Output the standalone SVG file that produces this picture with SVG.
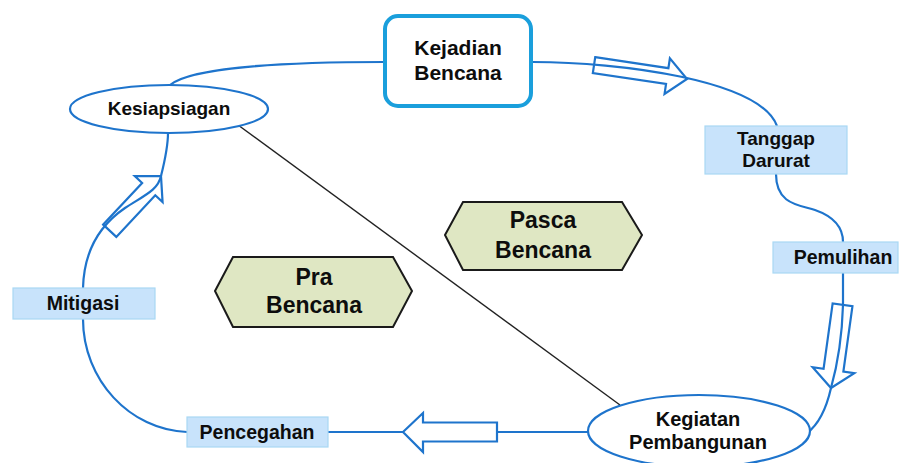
<svg xmlns="http://www.w3.org/2000/svg" width="904" height="463" viewBox="0 0 904 463">
<style>
.ln{fill:none;stroke:#1e74cc;stroke-width:2.2}
.arr{fill:none;stroke:#1e74cc;stroke-width:2.2;stroke-linejoin:miter}
.lbl{fill:#c8e3fb;stroke:#a9d8f3;stroke-width:1.2}
.t{font-family:"Liberation Sans",Arial,sans-serif;font-weight:bold;fill:#0d0d0d;text-anchor:middle}
.hex{fill:#dfe7c3;stroke:#1a1a1a;stroke-width:2}
</style>
<rect width="904" height="463" fill="#fff"/>
<g id="connectors">
<path class="ln" d="M384,62 C280,62 190,68 170,85"/>
<path class="ln" d="M533,62 C620,62 760,80 777,126"/>
<path class="ln" d="M776,174 C776,205 800,205 815,210 C835,217 843,228 843,242"/>
<path class="ln" d="M843,273 L843,305 C842,340 836,370 831,388 C826,410 818,425 807,433"/>
<path class="ln" d="M588,432 L328,432"/>
<path class="ln" d="M187,432 C130,430 83,380 83,319"/>
<path class="ln" d="M83,288 C84,250 100,225 125,208 C145,195 158,190 161,176 C165,160 168,145 168,133"/>
<path d="M238,125 L620,405" fill="none" stroke="#222" stroke-width="1.4"/>
<polygon class="arr" transform="translate(687,79) rotate(8.5)" points="-94,-8 -20,-8 -20,-18 0,0 -20,18 -20,8 -94,8"/>
<polygon class="arr" transform="translate(831,388) rotate(97.9)" points="-84,-10 -18,-10 -18,-21 0,0 -18,21 -18,10 -84,10"/>
<polygon class="arr" style="fill:#fff" points="403,432 423,413 423,422.5 497,422.5 497,441.5 423,441.5 423,452"/>
<polygon class="arr" transform="translate(161,176) rotate(-46.9)" points="-75,-9 -18,-9 -18,-19 0,0 -18,19 -18,9 -75,9"/>
</g>
<g id="kejadian">
<rect x="385" y="16" width="146" height="90" rx="13" fill="#fff" stroke="#1a9fdc" stroke-width="4"/>
<text class="t" x="458" y="55" font-size="21">Kejadian</text>
<text class="t" x="458" y="80" font-size="21">Bencana</text>
</g>
<g id="kesiapsiagan">
<ellipse cx="169" cy="109" rx="99" ry="24" fill="#fff" stroke="#1e74cc" stroke-width="2.2"/>
<text class="t" x="169" y="115" font-size="19">Kesiapsiagan</text>
</g>
<g id="tanggap">
<rect class="lbl" x="705" y="126" width="142" height="48"/>
<text class="t" x="776" y="145" font-size="19">Tanggap</text>
<text class="t" x="776" y="167" font-size="19">Darurat</text>
</g>
<g id="pemulihan">
<rect class="lbl" x="773" y="242" width="125" height="31"/>
<text class="t" x="843" y="264" font-size="19.5">Pemulihan</text>
</g>
<g id="kegiatan">
<ellipse cx="699" cy="431" rx="111" ry="36" fill="#fff" stroke="#1e74cc" stroke-width="2.2"/>
<text class="t" x="698" y="426" font-size="20">Kegiatan</text>
<text class="t" x="698" y="449" font-size="20">Pembangunan</text>
</g>
<g id="pencegahan">
<rect class="lbl" x="187" y="417" width="141" height="30"/>
<text class="t" x="257" y="439" font-size="19.5">Pencegahan</text>
</g>
<g id="mitigasi">
<rect class="lbl" x="13" y="288" width="142" height="31"/>
<text class="t" x="83" y="310" font-size="19.5">Mitigasi</text>
</g>
<g id="pasca">
<polygon class="hex" points="445,235 463,202 622,202 642,235 622,270 463,270"/>
<text class="t" x="543" y="228" font-size="23">Pasca</text>
<text class="t" x="543" y="258" font-size="23">Bencana</text>
</g>
<g id="pra">
<polygon class="hex" points="215,291 233,257 393,257 412,291 393,327 233,327"/>
<text class="t" x="314" y="285" font-size="23">Pra</text>
<text class="t" x="314" y="313" font-size="23">Bencana</text>
</g>
</svg>
